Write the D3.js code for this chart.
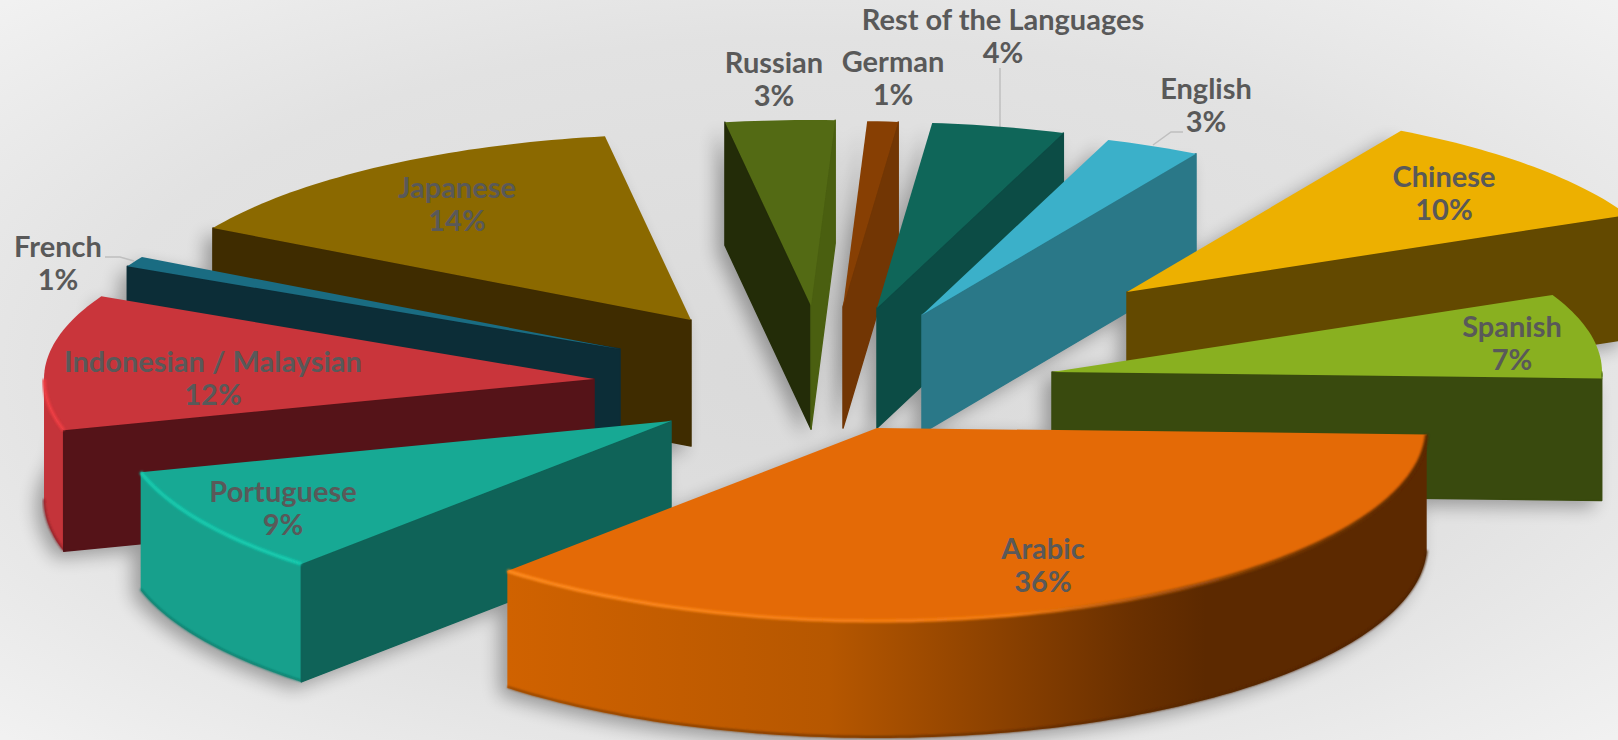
<!DOCTYPE html>
<html><head><meta charset="utf-8">
<script src="https://cdn.jsdelivr.net/npm/d3@7"></script>
<style>html,body{margin:0;padding:0;background:#e4e4e4;overflow:hidden}svg{display:block}
text{font-family:Lato,"Open Sans",sans-serif;font-weight:700;fill:#595959;font-size:29px;text-anchor:middle}</style>
</head><body><svg id="c" width="1618" height="740"></svg>
<script>
// --- data
const categories=["Russian","German","Rest of the Languages","English","Chinese","Spanish","Arabic","Portuguese","Indonesian / Malaysian","French","Japanese"];
const values=[3.2,0.9,3.9,2.8,9.9,7.33,36.2,9.0,11.6,0.9,14.27];
// --- layout: exploded slice tips, label anchors, colours
const tipX=[811,843,877,922,1127,1052,877,671,594,620,691];
const tipY=[306,307,308,315,292,372,428,421,379,349,320];
const sliceDepth=[123,121,120,118,124,122,117,118,121,118,126];
const labelX=[774,893,1003,1206,1444,1512,1043,283,213,58,457];
const labelY=[73,72,30,99,187,337,559,502,372,257,198];
const topColors=["#536A14","#873F03","#0F6659","#3BB0C9","#EDB000","#89B020","#E46A06","#17A994","#C9353B","#1A6C82","#8B6900"];
const startColors=["#232C08","#723604","#0C4C45","#2A7888","#634900","#394A0E","#5C2900","#0F6358","#551318","#0C2D37","#3F2C00"];
const endColors=["#4A5F10","#723604","#0C4C45","#2A7888","#634900","#394A0E","#5C2900","#0F6358","#551318","#0C2D37","#3F2C00"];
const rimColors=["#4A5F10","#723604","#0C4C45","#2A7888","#634900","#394A0E","url(#arabicRim)","#17A08C","#C4343A","#0C2D37","#3F2C00"];
const bevelColors=[null,null,null,null,null,"#5E7E16","url(#arabicBevel)","#14CDB0","#EE3D42",null,null];
const rimEdgeColors=[null,null,null,null,null,null,"url(#arabicEdge)","#0F7A6A","#8A2228",null,null];
const drawOrder=[0,1,2,3,4,5,10,9,8,7,6];
const leaderLines=[[[1000,68],[1000,127]],[[1153,145],[1171,132],[1183,132]],[[105,257],[120,257],[134,261]]];

const W=1618,H=740,RX=550,RY_BACK=186,RY_NEAR=193,START=-9*Math.PI/180;
const svg=d3.select("#c");
const defs=svg.append("defs");
const bg=defs.append("radialGradient").attr("id","bg").attr("cx","50%").attr("cy","50%").attr("r","90%");
[[0,"#DADADA"],[0.5,"#E2E2E2"],[0.78,"#F1F1F1"],[1,"#F6F6F6"]].forEach(([o,c])=>bg.append("stop").attr("offset",o).attr("stop-color",c));
const grad=(id,stops,x1,x2)=>{const g=defs.append("linearGradient").attr("id",id).attr("gradientUnits","userSpaceOnUse").attr("x1",x1).attr("x2",x2).attr("y1",0).attr("y2",0);
  stops.forEach(([o,c])=>g.append("stop").attr("offset",o).attr("stop-color",c));};
grad("arabicRim",[[0,"#D06200"],[0.35,"#B65700"],[0.68,"#6A3000"],[0.76,"#5C2900"],[1,"#5C2900"]],508,1426);
grad("arabicBevel",[[0,"#FF8A1E"],[0.55,"#F27A10"],[0.82,"#7A3A05"],[1,"#5C2900"]],508,1426);
grad("arabicEdge",[[0,"#8A4200"],[0.6,"#5C2900"],[1,"#4A2100"]],508,1426);
defs.append("filter").attr("id","blur").attr("x","-20%").attr("y","-20%").attr("width","140%").attr("height","140%")
  .append("feGaussianBlur").attr("stdDeviation",9);
defs.append("filter").attr("id","soft").append("feGaussianBlur").attr("stdDeviation",0.9);

svg.append("rect").attr("width",W).attr("height",H).attr("fill","url(#bg)");

const pie=d3.pie().sort(null).value(d=>d).startAngle(START).endAngle(START+2*Math.PI);
const arcs=pie(values);
const sx=d3.scaleLinear().domain([-1,1]).range([-RX,RX]);
const sy=d3.scaleLinear().domain([-1,0,1]).range([RY_NEAR,0,-RY_BACK]);
const line=d3.line();
const rimPt=(i,t,z=0)=>[tipX[i]+sx(Math.sin(t)),tipY[i]+sy(Math.cos(t))+z];
const tip=(i,z=0)=>[tipX[i],tipY[i]+z];
const arcPts=(i,a,b,z=0)=>{const n=Math.max(2,Math.ceil(Math.abs(b-a)/0.02));return d3.range(n+1).map(k=>rimPt(i,a+(b-a)*k/n,z));};
const closed=p=>line(p)+"Z";

const shadow=svg.append("g").attr("filter","url(#blur)").attr("opacity",0.32).attr("transform","translate(-8,7)");
arcs.forEach((d,i)=>{
  const a=d.startAngle,b=d.endAngle,D=sliceDepth[i];
  shadow.append("path").attr("fill","#000").attr("d",closed([tip(i,D),...arcPts(i,a,b,D)]));
  shadow.append("path").attr("fill","#000").attr("d",closed([tip(i,D),rimPt(i,a,D),rimPt(i,a),tip(i)]));
  shadow.append("path").attr("fill","#000").attr("d",closed([tip(i,D),rimPt(i,b,D),rimPt(i,b),tip(i)]));
});

leaderLines.forEach(p=>svg.append("path").attr("d",line(p)).attr("fill","none").attr("stroke","#BFBFBF").attr("stroke-width",1.5));

const slices=svg.append("g");
drawOrder.forEach(i=>{
  const d=arcs[i],a=d.startAngle,b=d.endAngle,D=sliceDepth[i],g=slices.append("g").attr("class","slice");
  const lo=Math.max(a,Math.PI/2),hi=Math.min(b,1.5*Math.PI);
  if(hi>lo){
    g.append("path").attr("fill",rimColors[i]).attr("d",closed([...arcPts(i,lo,hi),...arcPts(i,lo,hi,D).reverse()]));
    if(rimEdgeColors[i]) g.append("path").attr("fill","none").attr("stroke",rimEdgeColors[i]).attr("stroke-width",2).attr("filter","url(#soft)").attr("d",line(arcPts(i,lo,hi,D-1)));
  }
  if(Math.sin(a)<0) g.append("path").attr("fill",startColors[i]).attr("stroke",startColors[i]).attr("stroke-width",1.5).attr("stroke-linejoin","round")
    .attr("d",closed([tip(i),rimPt(i,a),rimPt(i,a,D),tip(i,D)]));
  if(Math.sin(b)>0) g.append("path").attr("fill",endColors[i]).attr("stroke",endColors[i]).attr("stroke-width",1.5).attr("stroke-linejoin","round")
    .attr("d",closed([tip(i),rimPt(i,b),rimPt(i,b,D),tip(i,D)]));
  g.append("path").attr("fill",topColors[i]).attr("d",closed([tip(i),...arcPts(i,a,b)]));
  if(bevelColors[i]&&hi>lo){
    g.append("path").attr("fill","none").attr("stroke",bevelColors[i]).attr("stroke-width",3.5).attr("filter","url(#soft)").attr("d",line(arcPts(i,lo,hi)));
  }
});

const labels=svg.append("g");
categories.forEach((c,i)=>{
  labels.append("text").attr("x",labelX[i]).attr("y",labelY[i]).text(c);
  labels.append("text").attr("x",labelX[i]).attr("y",labelY[i]+33).text(Math.round(values[i])+"%");
});
</script></body></html>
